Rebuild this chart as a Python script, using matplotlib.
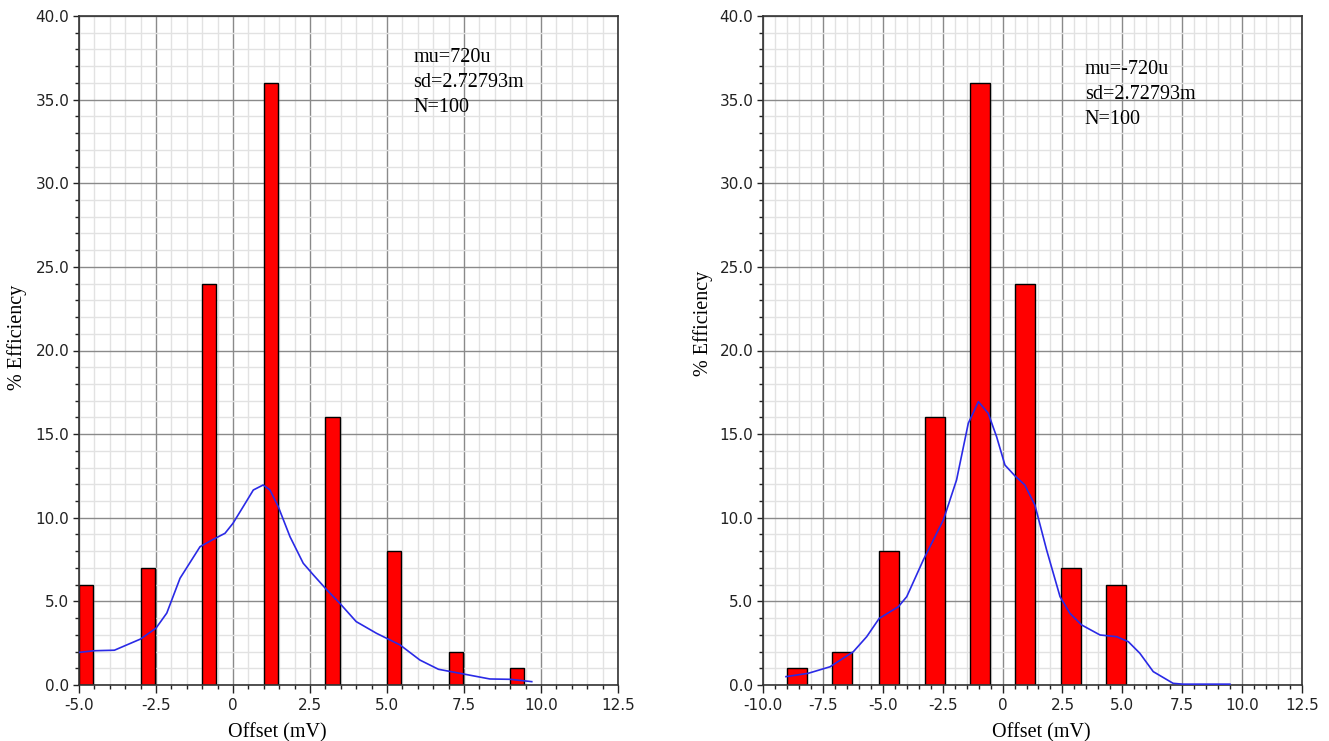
import numpy as np
import matplotlib
matplotlib.use("Agg")
import matplotlib.pyplot as plt
from matplotlib.ticker import MultipleLocator

# histogram bins (left edge), bar heights (% of N)
left_edges = [-5.0, -3.0, -1.0, 1.0, 3.0, 5.0, 7.0, 9.0]
left_pct = [6, 7, 24, 36, 16, 8, 2, 1]
right_edges = [-9.0, -7.1, -5.15, -3.25, -1.35, 0.52, 2.43, 4.33]
right_pct = [1, 2, 8, 16, 36, 24, 7, 6]

# smoothed density traces
left_cx = [-5.0, -4.5, -3.85, -3.0, -2.5, -2.15, -1.72, -1.07, -0.64, -0.26, 0.0, 0.33,
           0.66, 0.98, 1.2, 1.47, 1.85, 2.28, 2.61, 3.04, 3.47, 4.0, 4.66, 5.42, 6.07,
           6.67, 7.48, 8.34, 9.0, 9.7]
left_cy = [1.95, 2.05, 2.08, 2.75, 3.4, 4.3, 6.38, 8.27, 8.71, 9.07, 9.67, 10.66,
           11.66, 11.96, 11.66, 10.66, 8.87, 7.28, 6.58, 5.7, 4.88, 3.79, 3.09, 2.4, 1.49,
           0.94, 0.66, 0.36, 0.34, 0.2]
right_cx = [-9.04, -8.11, -7.2, -6.23, -5.67, -5.15, -4.35, -4.0, -3.31, -3.1, -2.47, -1.92,
            -1.43, -1.01, -0.6, -0.25, 0.1, 0.52, 0.93, 1.35, 1.84, 2.4, 2.81, 3.3, 4.07,
            4.76, 5.25, 5.73, 6.29, 7.12, 7.53, 9.49]
right_cy = [0.5, 0.7, 1.09, 1.99, 2.89, 3.98, 4.68, 5.28, 7.47, 8.07, 9.87, 12.26,
            15.65, 16.94, 16.25, 14.85, 13.15, 12.5, 11.96, 10.76, 8.07, 5.28, 4.29, 3.59, 2.99,
            2.89, 2.59, 1.9, 0.8, 0.1, 0.05, 0.05]

left_xticks = [-5.0, -2.5, 0, 2.5, 5.0, 7.5, 10.0, 12.5]
left_xlabels = ["-5.0", "-2.5", "0", "2.5", "5.0", "7.5", "10.0", "12.5"]
right_xticks = [-10.0, -7.5, -5.0, -2.5, 0, 2.5, 5.0, 7.5, 10.0, 12.5]
right_xlabels = ["-10.0", "-7.5", "-5.0", "-2.5", "0", "2.5", "5.0", "7.5", "10.0", "12.5"]
yticks = [0, 5, 10, 15, 20, 25, 30, 35, 40]
ylabels = ["0.0", "5.0", "10.0", "15.0", "20.0", "25.0", "30.0", "35.0", "40.0"]

left_stats = ["mu=720u", "sd=2.72793m", "N=100"]
right_stats = ["mu=-720u", "sd=2.72793m", "N=100"]

serif = "Liberation Serif"

fig = plt.figure(figsize=(13.29, 7.41), dpi=100)
ax1 = fig.add_axes([79/1329, 56/741, 539/1329, 669/741])
ax2 = fig.add_axes([763/1329, 56/741, 539/1329, 669/741])


def setup(ax, xlim, xticks, xlabels, xlab_x):
    ax.set_xlim(*xlim)
    ax.set_ylim(0, 40)
    ax.set_xticks(xticks)
    ax.set_xticklabels(xlabels)
    ax.set_yticks(yticks)
    ax.set_yticklabels(ylabels)
    ax.xaxis.set_minor_locator(MultipleLocator(0.5))
    ax.yaxis.set_minor_locator(MultipleLocator(1))
    ax.grid(which="minor", color="#e2e2e2", lw=1.0, zorder=0)
    ax.grid(which="major", color="#8a8a8a", lw=1.0, zorder=0)
    ax.set_axisbelow(True)
    ax.tick_params(which="major", direction="out", length=6, width=1, color="#222222",
                   labelsize=11, labelcolor="#222222", pad=3)
    ax.tick_params(axis="y", which="major", length=4)
    ax.tick_params(which="minor", direction="out", length=3, width=1, color="#222222")
    for s in ax.spines.values():
        s.set_color("#333333")
        s.set_linewidth(1.2)
    ax.set_xlabel("Offset (mV)", family=serif, fontsize=14.5)
    ax.set_ylabel("% Efficiency", family=serif, fontsize=14.5)
    ax.xaxis.set_label_coords(xlab_x, -0.057)


setup(ax1, (-5, 12.5), left_xticks, left_xlabels, 0.367)
ax1.yaxis.set_label_coords(-0.097, 0.52)
ax1.bar(left_edges, left_pct, width=0.46, align="edge", color="#ff0000",
        edgecolor="black", lw=1, zorder=2)
ax1.plot(left_cx, left_cy, color="#2a2ae6", lw=1.2, zorder=3)
for i, s in enumerate(left_stats):
    ax1.text(0.62, 0.931 - 0.037 * i, s, transform=ax1.transAxes, family=serif,
             fontsize=14.5, va="baseline", ha="left", zorder=4)

setup(ax2, (-10, 12.5), right_xticks, right_xlabels, 0.516)
ax2.yaxis.set_label_coords(-0.093, 0.54)
ax2.bar(right_edges, right_pct, width=0.83, align="edge", color="#ff0000",
        edgecolor="black", lw=1, zorder=2)
ax2.plot(right_cx, right_cy, color="#2a2ae6", lw=1.2, zorder=3)
for i, s in enumerate(right_stats):
    ax2.text(0.597, 0.913 - 0.037 * i, s, transform=ax2.transAxes, family=serif,
             fontsize=14.5, va="baseline", ha="left", zorder=4)

fig.savefig("out.png", dpi=100)
